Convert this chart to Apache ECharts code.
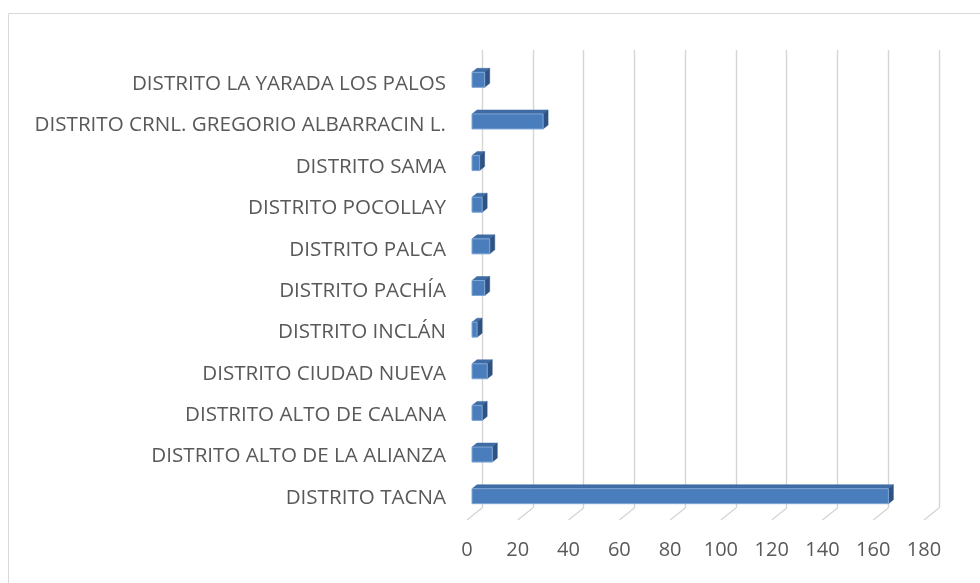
<!DOCTYPE html>
<html><head><meta charset="utf-8">
<script src="https://cdn.jsdelivr.net/npm/echarts@6/dist/echarts.min.js"></script>
<style>html,body{margin:0;padding:0;background:#fff}#c{width:980px;height:583px}</style>
</head><body><div id="c"></div>
<script>
const categories = [
  "DISTRITO TACNA",
  "DISTRITO ALTO DE LA ALIANZA",
  "DISTRITO ALTO DE CALANA",
  "DISTRITO CIUDAD NUEVA",
  "DISTRITO INCLÁN",
  "DISTRITO PACHÍA",
  "DISTRITO PALCA",
  "DISTRITO POCOLLAY",
  "DISTRITO SAMA",
  "DISTRITO CRNL. GREGORIO ALBARRACIN L.",
  "DISTRITO LA YARADA LOS PALOS"
];
const values = [164, 8, 4, 6, 2, 5, 7, 4, 3, 28, 5];
const xTicks = [0, 20, 40, 60, 80, 100, 120, 140, 160, 180];

const FONT = "Open Sans";
const chart = echarts.init(document.getElementById('c'), null, {renderer: 'canvas'});
const barData = values.map((v, i) => [v, i]);
const footData = xTicks.map(t => [t, 0]);

chart.setOption({
  animation: false,
  backgroundColor: '#fff',
  graphic: [{
    type: 'rect', shape: {x: 8.5, y: 13.5, width: 1200, height: 1200},
    style: {fill: 'none', stroke: '#d9d9d9', lineWidth: 1}, z: -10
  }],
  grid: [
    {left: 482, right: 41, top: 50, bottom: 75},
    {left: 482, right: 41, top: 63.5, bottom: 64.5},
    {left: 467, right: 56, top: 60, bottom: 53}
  ],
  xAxis: [
    {gridIndex: 0, type: 'value', min: 0, max: 180, interval: 20,
     axisLine: {show: false}, axisTick: {show: false}, axisLabel: {show: false},
     splitLine: {show: true, lineStyle: {color: '#d5d5d5', width: 1.4}}},
    {gridIndex: 1, type: 'value', min: 0, max: 180, interval: 20, show: false},
    {gridIndex: 2, type: 'value', min: 0, max: 180, interval: 20,
     axisLine: {show: false}, axisTick: {show: false}, splitLine: {show: false},
     axisLabel: {show: true, margin: 10, color: '#595959', fontSize: 20, fontFamily: FONT,
       formatter: v => xTicks.includes(v) ? String(v) : ''}}
  ],
  yAxis: [
    {gridIndex: 0, type: 'category', data: categories,
     axisLine: {show: false}, axisTick: {show: false}, axisLabel: {show: false}, splitLine: {show: false}},
    {gridIndex: 1, type: 'category', data: categories,
     axisLine: {show: false}, axisTick: {show: false}, splitLine: {show: false},
     axisLabel: {show: true, margin: 36, color: '#595959', fontSize: 20.6, fontFamily: FONT}},
    {gridIndex: 2, type: 'category', data: categories, show: false}
  ],
  series: [
    {
      type: 'custom', xAxisIndex: 0, yAxisIndex: 0, data: footData, clip: false, z: 1,
      encode: {x: 0, y: 1},
      renderItem: function (params, api) {
        const x = api.coord([api.value(0), 0])[0];
        const by = params.coordSys.y + params.coordSys.height;
        return {type: 'line', shape: {x1: x, y1: by, x2: x - 15, y2: by + 12},
          style: {stroke: '#d5d5d5', lineWidth: 1.4}};
      }
    },
    {
      type: 'custom', xAxisIndex: 0, yAxisIndex: 0, data: barData, clip: false, z: 5,
      encode: {x: 0, y: 1},
      renderItem: function (params, api) {
        const p0 = api.coord([0, api.value(1)]);
        const p1 = api.coord([api.value(0), api.value(1)]);
        const h = 15;
        const fx0 = p0[0] - 10, fx1 = p1[0] - 10;
        const fy0 = p0[1] + 9 - h / 2;
        const dx = 5, dy = 4;
        return {type: 'group', children: [
          {type: 'polygon', shape: {points: [[fx0, fy0], [fx1, fy0], [fx1 + dx, fy0 - dy], [fx0 + dx, fy0 - dy]]},
           style: {fill: '#3f6ca5', stroke: '#3f6ca5', lineWidth: 0.5}},
          {type: 'polygon', shape: {points: [[fx1, fy0], [fx1 + dx, fy0 - dy], [fx1 + dx, fy0 - dy + h], [fx1, fy0 + h]]},
           style: {fill: '#2d5283', stroke: '#2d5283', lineWidth: 0.5}},
          {type: 'rect', shape: {x: fx0, y: fy0, width: fx1 - fx0, height: h},
           style: {fill: '#4a7dbc', stroke: '#7fa5d4', lineWidth: 1}}
        ]};
      }
    }
  ]
});
</script></body></html>
